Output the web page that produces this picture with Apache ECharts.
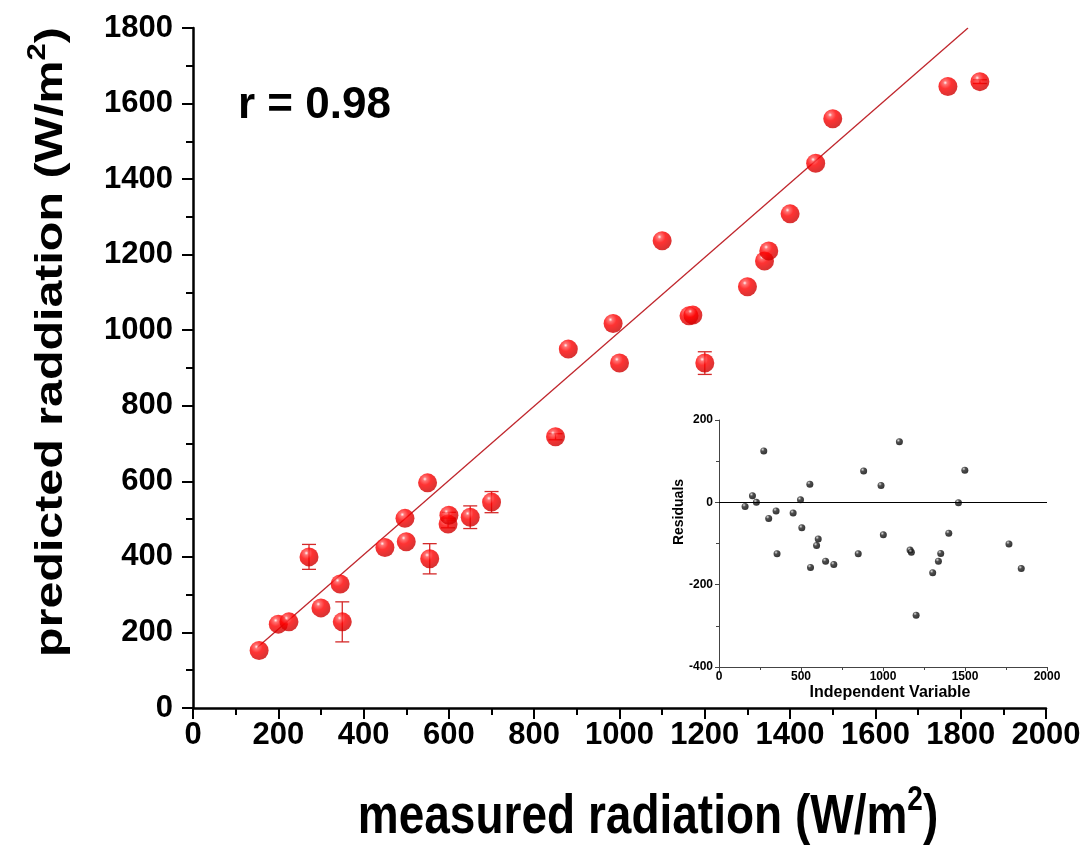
<!DOCTYPE html>
<html>
<head>
<meta charset="utf-8">
<script src="https://cdn.jsdelivr.net/npm/echarts@6/dist/echarts.min.js"></script>
<style>html,body{margin:0;padding:0;background:#fff;}#c{width:1091px;height:845px;}</style>
</head>
<body>
<div id="c"></div>
<script>
// measured radiation (x), predicted radiation (y)
const measured  = [155,200,225,272,300,345,350,450,497,500,550,555,598,600,650,700,850,880,985,1000,1100,1163,1172,1200,1300,1340,1350,1400,1460,1500,1770,1845];
const predicted = [152,222,228,400,265,328,228,425,502,440,596,395,487,510,505,545,718,950,1018,913,1237,1038,1040,913,1115,1183,1210,1308,1442,1560,1645,1658];
const errors    = [0,0,0,33,0,0,53,0,0,0,0,40,10,8,30,28,8,0,0,0,0,0,0,30,0,0,0,0,0,0,0,5];
// inset: residuals
const residX    = [159,204,228,273,303,348,354,452,497,505,554,558,595,605,650,700,849,882,988,1002,1100,1165,1173,1202,1303,1338,1352,1401,1460,1499,1768,1843];
const residuals = [-10,16,0,125,-39,-21,-125,-26,6,-62,44,-158,-105,-89,-143,-151,-125,76,41,-79,147,-116,-121,-274,-171,-143,-124,-75,-1,78,-101,-161];
// linear fit (r = 0.98)
const fitIntercept = 12, fitSlope = 0.984;
const fitStartX = 150, fitEndY = 1800;
const xTicksMain = [0,200,400,600,800,1000,1200,1400,1600,1800,2000];
const yTicksMain = [0,200,400,600,800,1000,1200,1400,1600,1800];

const chart = echarts.init(document.getElementById('c'), null, {renderer:'canvas'});
const BOLD = '"Liberation Sans", Arial, sans-serif';

const fitData = [
  [fitStartX, fitIntercept + fitSlope * fitStartX],
  [(fitEndY - fitIntercept) / fitSlope, fitEndY]
];
const errData = [];
measured.forEach((x,i)=>{ if (errors[i] > 0) errData.push([x, predicted[i]-errors[i], predicted[i]+errors[i]]); });

const redBall = {type:'radial', x:0.36, y:0.3, r:0.75, colorStops:[
  {offset:0, color:'#fff4f4'},{offset:0.14, color:'#ff5050'},{offset:0.42, color:'#ff0000'},{offset:1, color:'#c80000'}]};
const blackBall = {type:'radial', x:0.35, y:0.3, r:0.75, colorStops:[
  {offset:0, color:'#d8d8d8'},{offset:0.35, color:'#222'},{offset:1, color:'#000'}]};

const mainAxisCommon = {
  splitLine:{show:false},
  axisLine:{show:true, onZero:false, lineStyle:{color:'#000', width:2.5}},
  axisTick:{show:true, inside:false, length:11, lineStyle:{color:'#000', width:2}},
  minorTick:{show:true, splitNumber:2, length:7, lineStyle:{color:'#000', width:2}},
};
const insetAxisCommon = {
  splitLine:{show:false},
  axisLine:{show:true, onZero:false, lineStyle:{color:'#444', width:1}},
  axisTick:{show:true, inside:false, length:4, lineStyle:{color:'#444', width:1}},
  minorTick:{show:true, splitNumber:2, length:3, lineStyle:{color:'#444', width:1}},
};

chart.setOption({
  animation:false,
  backgroundColor:'#fff',
  grid:[
    {left:193, right:45, top:28, bottom:137},
    {left:719, right:44, top:420, bottom:178}
  ],
  xAxis:[
    Object.assign({type:'value', gridIndex:0, min:0, max:2000, interval:200,
      axisLabel:{margin:12, color:'#000', fontFamily:BOLD, fontWeight:'bold', fontSize:31,
        formatter:(v)=> xTicksMain.includes(v) ? String(v) : ''}}, mainAxisCommon),
    Object.assign({type:'value', gridIndex:1, min:0, max:2000, interval:500,
      axisLabel:{margin:4, color:'#000', fontFamily:BOLD, fontWeight:'bold', fontSize:12,
        formatter:(v)=>String(v)}}, insetAxisCommon)
  ],
  yAxis:[
    Object.assign({type:'value', gridIndex:0, min:0, max:1800, interval:200,
      axisLabel:{margin:20, color:'#000', fontFamily:BOLD, fontWeight:'bold', fontSize:31,
        formatter:(v)=> yTicksMain.includes(v) ? String(v) : ''}}, mainAxisCommon),
    Object.assign({type:'value', gridIndex:1, min:-400, max:200, interval:200,
      axisLabel:{margin:6, color:'#000', fontFamily:BOLD, fontWeight:'bold', fontSize:12,
        formatter:(v)=>String(v)}}, insetAxisCommon)
  ],
  series:[
    {
      type:'custom', xAxisIndex:0, yAxisIndex:0, z:2, silent:true,
      data: errData,
      encode:{x:0, y:[1,2]},
      renderItem:(params, api)=>{
        const x = api.value(0), lo = api.value(1), hi = api.value(2);
        const pt = api.coord([x, hi]), pb = api.coord([x, lo]);
        const hw = 7;
        const st = {stroke:'#d42a2a', lineWidth:1.3};
        return {type:'group', children:[
          {type:'line', shape:{x1:pt[0], y1:pt[1], x2:pb[0], y2:pb[1]}, style:st},
          {type:'line', shape:{x1:pt[0]-hw, y1:pt[1], x2:pt[0]+hw, y2:pt[1]}, style:st},
          {type:'line', shape:{x1:pb[0]-hw, y1:pb[1], x2:pb[0]+hw, y2:pb[1]}, style:st}
        ]};
      }
    },
    {
      type:'line', xAxisIndex:0, yAxisIndex:0, z:3, silent:true,
      data: fitData, symbol:'none',
      lineStyle:{color:'#c0272d', width:1.3}
    },
    {
      type:'scatter', xAxisIndex:0, yAxisIndex:0, z:4,
      data: measured.map((x,i)=>[x, predicted[i]]),
      symbol:'circle', symbolSize:19,
      itemStyle:{color:redBall}
    },
    {
      type:'scatter', xAxisIndex:1, yAxisIndex:1, z:4,
      data: residX.map((x,i)=>[x, residuals[i]]),
      symbol:'circle', symbolSize:7,
      itemStyle:{color:blackBall},
      markLine:{silent:true, symbol:'none', label:{show:false},
        lineStyle:{color:'#000', width:1, type:'solid'},
        data:[{yAxis:0}]}
    }
  ],
  graphic:[
    {type:'text', x:238, y:106, style:{text:'r = 0.98', fill:'#000', fontFamily:BOLD, fontWeight:'bold', fontSize:44, align:'left', verticalAlign:'middle'}},
    {type:'text', x:51, y:342, rotation:Math.PI/2, scaleX:1.24,
      style:{text:'{a|predicted raddiation (W/m}{s|2}{a|)}', align:'center', verticalAlign:'middle',
        rich:{a:{fill:'#000', fontFamily:BOLD, fontWeight:'bold', fontSize:39},
              s:{fill:'#000', fontFamily:BOLD, fontWeight:'bold', fontSize:25, padding:[0,0,25,0]}}}},
    {type:'text', x:648, y:818, scaleY:1.22,
      style:{text:'{a|measured radiation (W/m}{s|2}{a|)}', align:'center', verticalAlign:'middle',
        rich:{a:{fill:'#000', fontFamily:BOLD, fontWeight:'bold', fontSize:46},
              s:{fill:'#000', fontFamily:BOLD, fontWeight:'bold', fontSize:28, padding:[0,0,28,0]}}}},
    {type:'text', x:679, y:512, rotation:Math.PI/2,
      style:{text:'Residuals', fill:'#000', fontFamily:BOLD, fontWeight:'bold', fontSize:14, align:'center', verticalAlign:'middle'}},
    {type:'text', x:890, y:693,
      style:{text:'Independent Variable', fill:'#000', fontFamily:BOLD, fontWeight:'bold', fontSize:16, align:'center', verticalAlign:'middle'}}
  ]
});
</script>
</body>
</html>
